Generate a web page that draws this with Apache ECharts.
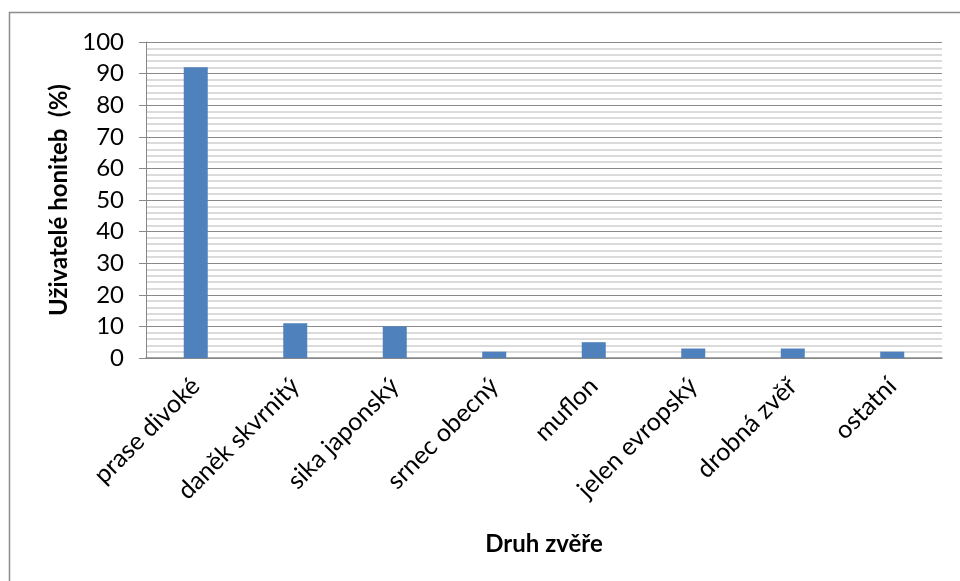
<!DOCTYPE html>
<html><head><meta charset="utf-8">
<script src="https://cdn.jsdelivr.net/npm/echarts@6/dist/echarts.min.js"></script>
<style>html,body{margin:0;padding:0;background:#fff}#c{width:960px;height:581px}</style>
</head><body><div id="c"></div>
<script>
const categories = ["prase divoké","daněk skvrnitý","sika japonský","srnec obecný","muflon","jelen evropský","drobná zvěř","ostatní"];
const values = [92, 11, 10, 2, 5, 3, 3, 2];
const yTicks = [0,10,20,30,40,50,60,70,80,90,100];
const font = "Lato, 'Open Sans', sans-serif";
const chart = echarts.init(document.getElementById('c'));
chart.setOption({
  animation:false,
  graphic:[{type:'rect',shape:{x:9.5,y:12.5,width:1000,height:700},style:{fill:'none',stroke:'#8c8c8c',lineWidth:1.5}}],
  grid:{left:146,right:18,top:42,bottom:223,containLabel:false},
  xAxis:{type:'category',data:categories,
    name:'Druh zvěře',nameLocation:'middle',nameGap:174,
    nameTextStyle:{fontFamily:font,fontSize:24,fontWeight:'bold',color:'#000'},
    axisLine:{lineStyle:{color:'#888',width:1.5}},axisTick:{show:false},
    axisLabel:{rotate:45,margin:24,fontFamily:font,fontSize:25,color:'#000',interval:0}},
  yAxis:{type:'value',min:0,max:100,interval:10,
    name:'Uživatelé honiteb  (%)',nameLocation:'middle',nameGap:72,
    nameTextStyle:{fontFamily:font,fontSize:24,fontWeight:'bold',color:'#000'},
    axisLine:{show:true,lineStyle:{color:'#888',width:1}},
    axisTick:{show:true,length:7,lineStyle:{color:'#888'}},
    axisLabel:{fontFamily:font,fontSize:24,color:'#000',margin:22,
      formatter:v=>yTicks.includes(v)?String(v):''},
    splitLine:{show:true,lineStyle:{color:'#8a8a8a',width:1}},
    minorTick:{show:false,splitNumber:5},
    minorSplitLine:{show:true,lineStyle:{color:'#cfcfcf',width:1.5}}},
  series:[{type:'bar',data:values,barWidth:24,itemStyle:{color:'#4F81BD'}}]
});
</script></body></html>
